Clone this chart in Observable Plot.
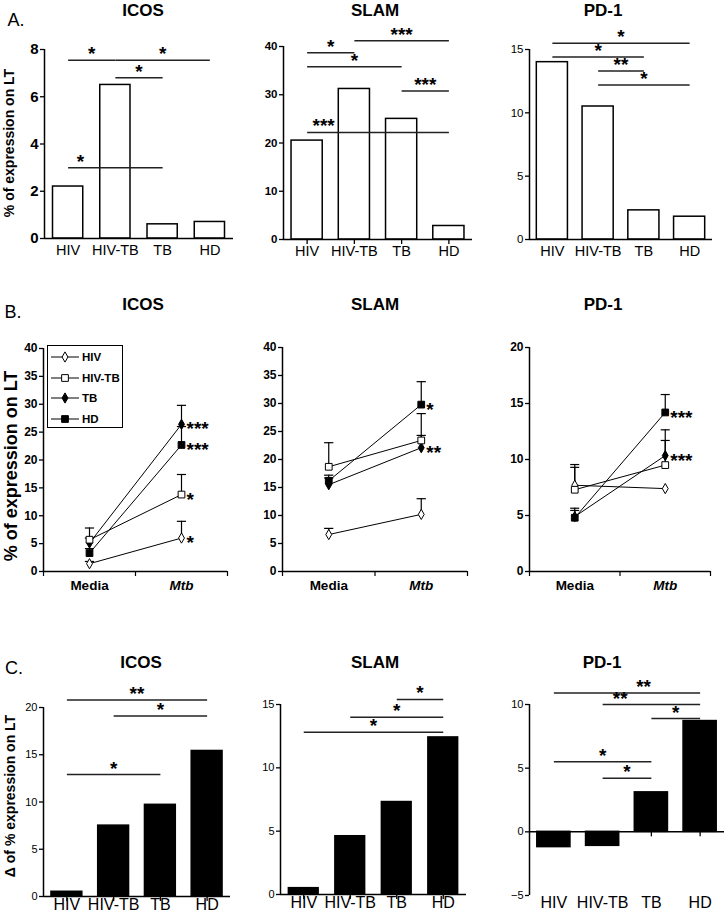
<!DOCTYPE html>
<html><head><meta charset="utf-8">
<script src="https://cdn.jsdelivr.net/npm/d3@7"></script>
<script src="https://cdn.jsdelivr.net/npm/@observablehq/plot@0.6"></script>
<style>
body{margin:0;background:#fff;}
#fig{position:relative;width:728px;height:917px;font-family:"Liberation Sans",Arial,Helvetica,sans-serif;color:#000;overflow:hidden;background:#fff}
.t{position:absolute;white-space:nowrap;line-height:1;transform:translate(-50%,-50%)}
.title{font-weight:bold;font-size:17px}
.letter{font-size:18px}
.ylab{font-weight:bold;transform:translate(-50%,-50%) rotate(-90deg)}
</style></head><body><div id="fig"></div>
<script>
// ---------- DATA ----------
const groups = ["HIV", "HIV-TB", "TB", "HD"];
const conditions = ["Media", "Mtb"];
const markers = ["diamond", "square", "diamond", "square"];
const markerFill = ["white", "white", "black", "black"];

// Panel A: % of expression on LT
const icosA = [2.2, 6.5, 0.6, 0.7];
const slamA = [20.5, 31.2, 25.0, 2.8];
const pd1A = [14.0, 10.5, 2.3, 1.8];
// significance: [from, to, level, stars, (optional star position in group units)]
const icosASig = [["HIV", "HIV-TB", 7.55, "*"], ["HIV-TB", "HD", 7.55, "*"], ["HIV-TB", "TB", 6.8, "*"], ["HIV", "TB", 3.0, "*", 0.26]];
const slamASig = [["HIV", "HIV-TB", 38.7, "*"], ["HIV", "TB", 35.8, "*"], ["HIV-TB", "HD", 41.2, "***"], ["TB", "HD", 30.8, "***"], ["HIV", "HD", 22.2, "***", 0.35]];
const pd1ASig = [["HIV", "HD", 15.5, "*"], ["HIV", "TB", 14.4, "*"], ["HIV-TB", "TB", 13.3, "**"], ["HIV-TB", "HD", 12.2, "*"]];

// Panel B: means [Media, Mtb] and upper error per group
const icosBMeans = [[1.4, 6.0], [5.7, 13.8], [5.1, 26.4], [3.3, 22.7]];
const icosBErr = [[0.4, 3.0], [2.1, 3.6], [0.9, 3.4], [0.8, 3.3]];
const icosBStars = [["HIV", "*"], ["HIV-TB", "*"], ["TB", "***"], ["HD", "***"]];
const slamBMeans = [[6.6, 10.2], [18.7, 23.4], [15.5, 22.1], [16.2, 29.8]];
const slamBErr = [[1.1, 2.8], [4.3, 4.8], [1.2, 2.2], [1.0, 4.1]];
const slamBStars = [["TB", "**"], ["HD", "*"]];
const pd1BMeans = [[7.7, 7.4], [7.3, 9.5], [4.9, 10.35], [4.8, 14.2]];
const pd1BErr = [[1.85, 0], [2.0, 3.15], [0.75, 1.35], [0.65, 1.6]];
const pd1BStars = [["TB", "***"], ["HD", "***"]];

// Panel C: delta of % expression on LT
const icosC = [0.5, 7.5, 9.7, 15.4];
const slamC = [0.5, 4.6, 7.3, 12.4];
const pd1C = [-1.2, -1.1, 3.1, 8.7];
const icosCSig = [["HIV", "HD", 20.8, "**"], ["HIV-TB", "HD", 19.1, "*"], ["HIV", "TB", 12.9, "*"]];
const slamCSig = [["TB", "HD", 15.4, "*"], ["HIV-TB", "HD", 14.0, "*"], ["HIV", "HD", 12.8, "*"]];
const pd1CSig = [["HIV", "HD", 10.9, "**", 1.84], ["HIV-TB", "HD", 10.0, "**", 1.36], ["TB", "HD", 8.9, "*"], ["HIV", "TB", 5.5, "*"], ["HIV-TB", "TB", 4.2, "*"]];

// ---------- DRAWING ----------
const fontFam = '"Liberation Sans", Arial, Helvetica, sans-serif';
const fig = document.getElementById("fig");
function place(node, left, top) {
  node.style.position = "absolute";
  node.style.left = left + "px";
  node.style.top = top + "px";
  fig.appendChild(node);
}
function label(text, cls, x, y, extra) {
  const d = document.createElement("div");
  d.className = "t " + cls;
  d.textContent = text;
  d.style.left = x + "px";
  d.style.top = y + "px";
  if (extra) Object.assign(d.style, extra);
  fig.appendChild(d);
}
const baseStyle = {fontFamily: fontFam, fontSize: "12px", color: "black", background: "none", overflow: "visible"};
const starFont = 19;

function barPanel(c) {
  const rows = groups.map((g, i) => ({g, i, v: c.values[i]}));
  const sig = c.sig.map(([a, b, y, s, at]) => {
    const i1 = groups.indexOf(a), i2 = groups.indexOf(b);
    return {i1, i2, y, s, at: at ?? (i1 + i2) / 2};
  });
  const idx = groups.map((g, i) => i);
  const marks = [];
  if (c.xTicks) marks.push(Plot.ruleX(idx, {x: d => d, y1: 0, y2: 0, insetBottom: -5, stroke: "black", strokeWidth: 1.3}));
  marks.push(
    Plot.rectY(rows, {x1: d => d.i - c.half, x2: d => d.i + c.half, y1: 0, y2: "v", fill: c.fill, stroke: "black", strokeWidth: 1.5}),
    Plot.ruleY([0], {stroke: "black", strokeWidth: 1.5}),
    Plot.ruleX([-0.5], {stroke: "black", strokeWidth: 1.5}),
    Plot.axisY({ticks: c.yTicks, tickSize: 4, tickPadding: 2, fontSize: c.yFont, fontWeight: c.yWeight, label: null, strokeWidth: 1.3}),
    Plot.link(sig, {x1: "i1", x2: "i2", y1: "y", y2: "y", stroke: "#222", strokeWidth: 1.5}),
    Plot.text(sig, {x: "at", y: "y", text: "s", lineAnchor: "bottom", dy: 0, fontSize: starFont, fontWeight: "bold"}),
    Plot.text(groups, {x: (d, i) => i, frameAnchor: "bottom", dy: c.labelDy, fontSize: c.labelFont})
  );
  const svg = Plot.plot({
    width: c.w, height: c.h,
    marginLeft: c.mL, marginRight: c.mR, marginTop: c.mT, marginBottom: c.mB,
    x: {domain: [-0.5, 3.5], axis: null},
    y: {domain: c.yDomain},
    style: baseStyle,
    marks
  });
  place(svg, c.left, c.top);
}

function linePanel(c) {
  const pts = [];
  groups.forEach((g, gi) => conditions.forEach((cond, ci) => pts.push({g, gi, ci, m: c.means[gi][ci], e: c.errs[gi][ci]})));
  const errs = pts.filter(d => d.e > 0);
  const stars = c.stars.map(([g, s]) => ({ci: 1, m: c.means[groups.indexOf(g)][1], s}));
  const svg = Plot.plot({
    width: c.w, height: c.h,
    marginLeft: c.mL, marginRight: c.mR, marginTop: c.mT, marginBottom: c.mB,
    x: {domain: [-0.5, 1.5], axis: null},
    y: {domain: c.yDomain},
    symbol: {domain: groups, range: markers},
    style: baseStyle,
    marks: [
      Plot.ruleX([-0.5, 0.5, 1.5], {x: d => d, y1: 0, y2: 0, insetBottom: -5, stroke: "black", strokeWidth: 1.2}),
      Plot.ruleY([0], {stroke: "black", strokeWidth: 1.5}),
      Plot.ruleX([-0.5], {stroke: "black", strokeWidth: 1.5}),
      Plot.axisY({ticks: c.yTicks, tickSize: 4, tickPadding: 2, fontSize: 12, fontWeight: "bold", label: null, strokeWidth: 1.3}),
      Plot.text(conditions, {x: (d, i) => i, filter: (d, i) => i === 0, frameAnchor: "bottom", dy: 18, fontSize: 13.5, fontWeight: "bold"}),
      Plot.text(conditions, {x: (d, i) => i, filter: (d, i) => i === 1, frameAnchor: "bottom", dy: 18, fontSize: 13.5, fontWeight: "bold", fontStyle: "italic"}),
      Plot.line(pts, {x: "ci", y: "m", z: "g", stroke: "black", strokeWidth: 1}),
      Plot.ruleX(errs, {x: "ci", y1: "m", y2: d => d.m + d.e, stroke: "black", strokeWidth: 1.2}),
      Plot.ruleY(errs, {x1: d => d.ci - 0.045, x2: d => d.ci + 0.055, y: d => d.m + d.e, stroke: "black", strokeWidth: 1.2}),
      Plot.dot(pts, {filter: d => markers[d.gi] === "diamond", x: "ci", y: "m", symbol: "g", r: 3.1, fill: d => markerFill[d.gi], stroke: "black", strokeWidth: 1}),
      Plot.dot(pts, {filter: d => markers[d.gi] === "square", x: "ci", y: "m", symbol: "g", r: 3.8, fill: d => markerFill[d.gi], stroke: "black", strokeWidth: 1}),
      Plot.text(stars, {x: "ci", y: "m", text: "s", textAnchor: "start", dx: 5, dy: 5, fontSize: starFont, fontWeight: "bold"})
    ]
  });
  place(svg, c.left, c.top);
}

// Row A
barPanel({values: icosA, sig: icosASig, yDomain: [0, 8], yTicks: [0, 2, 4, 6, 8], yFont: 15, yWeight: "bold",
  left: 0, top: 30, w: 240, h: 240, mL: 44, mR: 7, mT: 19, mB: 32, half: 0.32, fill: "white", xTicks: false, labelDy: 16, labelFont: 14.5});
barPanel({values: slamA, sig: slamASig, yDomain: [0, 40], yTicks: [0, 10, 20, 30, 40], yFont: 11.5, yWeight: "bold",
  left: 240, top: 30, w: 240, h: 240, mL: 43, mR: 8, mT: 16, mB: 31, half: 0.33, fill: "white", xTicks: true, labelDy: 16, labelFont: 14.5});
barPanel({values: pd1A, sig: pd1ASig, yDomain: [0, 15], yTicks: [0, 5, 10, 15], yFont: 11.5, yWeight: "normal",
  left: 480, top: 30, w: 248, h: 240, mL: 49, mR: 16, mT: 19, mB: 31, half: 0.34, fill: "white", xTicks: false, labelDy: 16, labelFont: 14.5});

// Row B
linePanel({means: icosBMeans, errs: icosBErr, stars: icosBStars, yDomain: [0, 40], yTicks: d3.range(0, 41, 5),
  left: 0, top: 330, w: 240, h: 265, mL: 43, mR: 13, mT: 18, mB: 24});
linePanel({means: slamBMeans, errs: slamBErr, stars: slamBStars, yDomain: [0, 40], yTicks: d3.range(0, 41, 5),
  left: 240, top: 330, w: 240, h: 265, mL: 42, mR: 13, mT: 17, mB: 24});
linePanel({means: pd1BMeans, errs: pd1BErr, stars: pd1BStars, yDomain: [0, 20], yTicks: d3.range(0, 21, 5),
  left: 480, top: 330, w: 248, h: 265, mL: 49, mR: 18, mT: 17, mB: 24});

// Row C
barPanel({values: icosC, sig: icosCSig, yDomain: [0, 20], yTicks: [0, 5, 10, 15, 20], yFont: 11, yWeight: "normal",
  left: 0, top: 680, w: 240, h: 237, mL: 43, mR: 10, mT: 27, mB: 21, half: 0.33, fill: "black", xTicks: true, labelDy: 13, labelFont: 16});
barPanel({values: slamC, sig: slamCSig, yDomain: [0, 15], yTicks: [0, 5, 10, 15], yFont: 11, yWeight: "normal",
  left: 240, top: 680, w: 240, h: 237, mL: 40, mR: 14, mT: 24, mB: 23, half: 0.32, fill: "black", xTicks: true, labelDy: 13, labelFont: 16});
barPanel({values: pd1C, sig: pd1CSig, yDomain: [-5, 10], yTicks: [-5, 0, 5, 10], yFont: 11, yWeight: "normal",
  left: 480, top: 680, w: 248, h: 237, mL: 49, mR: 4, mT: 24, mB: 22, half: 0.34, fill: "black", xTicks: true, labelDy: 12, labelFont: 16});

// Titles, panel letters, axis labels
const titles = ["ICOS", "SLAM", "PD-1"];
[[143, 375, 603, 10], [143, 375, 603, 304], [141, 375, 602, 662]].forEach(r => {
  titles.forEach((t, i) => label(t, "title", r[i], r[3]));
});
label("A.", "letter", 16, 20);
label("B.", "letter", 13, 312);
label("C.", "letter", 14, 668);
label("% of expression on LT", "ylab", 9, 143, {fontSize: "14px"});
label("% of expression on LT", "ylab", 11, 466, {fontSize: "18px"});
label("Δ of % expression on LT", "ylab", 10, 796, {fontSize: "14px"});

// Legend for panel B
const leg = document.createElement("div");
leg.style.cssText = "width:76px;height:83px;border:1px solid #000;background:#fff;box-sizing:border-box;padding-top:1px;overflow:hidden";
groups.forEach((g, i) => {
  const row = document.createElement("div");
  row.style.cssText = "display:flex;align-items:center;height:20.5px;font-weight:bold;font-size:11.5px;white-space:nowrap";
  const ns = "http://www.w3.org/2000/svg";
  const s = document.createElementNS(ns, "svg");
  s.setAttribute("width", 33); s.setAttribute("height", 14);
  s.style.flex = "none";
  const ln = document.createElementNS(ns, "line");
  ln.setAttribute("x1", 3); ln.setAttribute("x2", 31); ln.setAttribute("y1", 7); ln.setAttribute("y2", 7);
  ln.setAttribute("stroke", "black"); ln.setAttribute("stroke-width", 1);
  s.appendChild(ln);
  const r = markers[i] === "diamond" ? 3.1 : 3.8;
  const p = document.createElementNS(ns, "path");
  p.setAttribute("d", d3.symbol(markers[i] === "diamond" ? d3.symbolDiamond : d3.symbolSquare, Math.PI * r * r)());
  p.setAttribute("transform", "translate(17,7)");
  p.setAttribute("fill", markerFill[i]); p.setAttribute("stroke", "black");
  s.appendChild(p);
  row.appendChild(s);
  const sp = document.createElement("span");
  sp.textContent = g;
  sp.style.marginLeft = "1px";
  row.appendChild(sp);
  leg.appendChild(row);
});
place(leg, 47, 345);
</script></body></html>
